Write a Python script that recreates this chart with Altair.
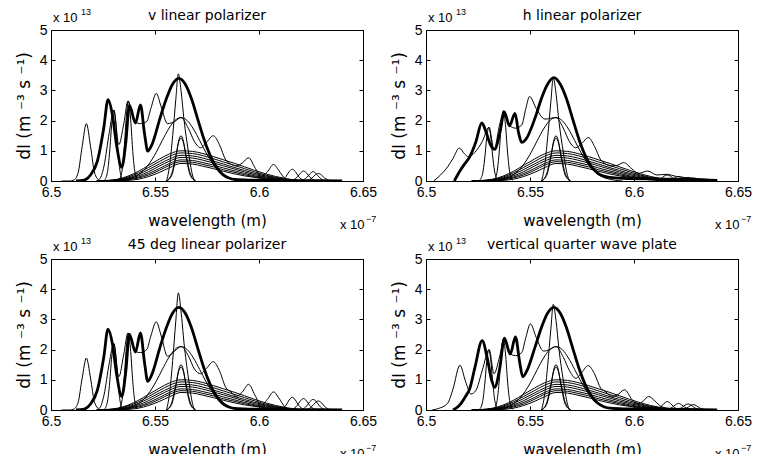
import altair as alt
import pandas as pd

FONT_TICK = "Liberation Sans"
FONT_TITLE = "DejaVu Sans"
W, H = 312, 151

panel_titles = ["v linear polarizer", "h linear polarizer",
                "45 deg linear polarizer", "vertical quarter wave plate"]
x_ticks = [6.5, 6.55, 6.6, 6.65]
y_ticks = [0, 1, 2, 3, 4, 5]

# ---- components common to all four panels (x in 1e-7 m, y in 1e13) ----
XB = [6.522, 6.527, 6.532, 6.537, 6.542, 6.547, 6.552, 6.557, 6.5625, 6.568, 6.573,
      6.578, 6.583, 6.588, 6.593, 6.598, 6.603, 6.608, 6.613, 6.618, 6.623]
B1 = [0.00, 0.02, 0.06, 0.16, 0.32, 0.52, 0.72, 0.90, 1.00, 0.98, 0.91, 0.81, 0.70, 0.59, 0.47, 0.35, 0.24, 0.15, 0.08, 0.03, 0.01]
B2 = [0.00, 0.01, 0.05, 0.13, 0.27, 0.45, 0.64, 0.82, 0.93, 0.91, 0.84, 0.74, 0.63, 0.52, 0.41, 0.30, 0.20, 0.12, 0.06, 0.02, 0.005]
B3 = [0.00, 0.01, 0.04, 0.10, 0.22, 0.38, 0.56, 0.73, 0.85, 0.83, 0.76, 0.66, 0.56, 0.45, 0.35, 0.25, 0.17, 0.10, 0.05, 0.02, 0.00]
B4 = [0.00, 0.01, 0.03, 0.08, 0.17, 0.31, 0.49, 0.66, 0.78, 0.76, 0.69, 0.60, 0.50, 0.40, 0.30, 0.21, 0.14, 0.08, 0.04, 0.015, 0.00]
B5 = [0.00, 0.00, 0.02, 0.06, 0.13, 0.25, 0.41, 0.58, 0.70, 0.68, 0.61, 0.53, 0.43, 0.34, 0.25, 0.17, 0.11, 0.06, 0.03, 0.01, 0.00]
B6 = [0.00, 0.00, 0.015, 0.04, 0.10, 0.20, 0.35, 0.52, 0.64, 0.62, 0.55, 0.47, 0.37, 0.29, 0.21, 0.14, 0.09, 0.05, 0.02, 0.01, 0.00]
B7 = [0.00, 0.00, 0.01, 0.02, 0.06, 0.15, 0.28, 0.44, 0.58, 0.56, 0.49, 0.41, 0.32, 0.24, 0.17, 0.12, 0.07, 0.035, 0.017, 0.006, 0.00]

XN = [6.5555, 6.558, 6.560, 6.5615, 6.5625, 6.5635, 6.565, 6.567, 6.5695]
N1 = [0.0, 0.18, 0.78, 1.36, 1.50, 1.36, 0.78, 0.18, 0.0]
N2 = [0.0, 0.24, 0.83, 1.31, 1.42, 1.31, 0.83, 0.24, 0.01]

XG = [6.5305, 6.5345, 6.5385, 6.5415, 6.5445, 6.5475, 6.5505, 6.5535, 6.5565, 6.5595, 6.5625,
      6.5655, 6.5685, 6.5715, 6.5745, 6.5775, 6.5805, 6.5835, 6.5865, 6.5905, 6.5945]
G21 = [0.0, 0.03, 0.09, 0.18, 0.35, 0.60, 0.94, 1.34, 1.72, 2.0, 2.1, 2.0, 1.72, 1.34, 0.94, 0.60, 0.35, 0.18, 0.09, 0.03, 0.0]

XS = [6.5555, 6.557, 6.5585, 6.560, 6.5612, 6.5625, 6.564, 6.566, 6.568, 6.569]
XNB = [6.5257, 6.5272, 6.5282, 6.5292, 6.5302, 6.5312, 6.5322, 6.5332, 6.5347]
XNC = [6.5327, 6.5342, 6.5352, 6.5362, 6.5372, 6.5382, 6.5392, 6.5402, 6.5417]

XT1 = [6.6105, 6.613, 6.6145, 6.616, 6.6175, 6.619, 6.6215]
XT2 = [6.6159, 6.6184, 6.6199, 6.6214, 6.6229, 6.6244, 6.6269]
XT3 = [6.6205, 6.623, 6.6245, 6.626, 6.6275, 6.629, 6.6315]
XT4 = [6.623, 6.6255, 6.627, 6.6285, 6.630, 6.6315, 6.634]

XMAIN = [6.5525, 6.5555, 6.5585, 6.5615, 6.5645, 6.5675, 6.5705, 6.5735, 6.5765, 6.5795,
         6.5825, 6.5855, 6.5885, 6.595, 6.61, 6.625, 6.64]

# ---- panel 1: v linear polarizer ----
T1X = [6.512, 6.516, 6.519, 6.5223, 6.5254, 6.5274, 6.5295, 6.5315, 6.534, 6.536, 6.5377,
       6.5406, 6.543, 6.545, 6.5465, 6.5485] + XMAIN
T1Y = [0.0, 0.03, 0.2, 0.66, 1.77, 2.69, 2.2, 1.2, 0.45, 1.3, 2.5, 1.92, 2.52, 1.55, 0.99, 1.2,
       2.1, 2.73, 3.21, 3.4, 3.21, 2.73, 2.06, 1.39, 0.85, 0.46, 0.22, 0.1, 0.05, 0.03, 0.02, 0.01, 0.0]
M13X = [6.505, 6.509, 6.511, 6.513, 6.515, 6.517, 6.519, 6.521, 6.523, 6.5255, 6.528, 6.5302,
        6.5326, 6.535, 6.537, 6.539, 6.5405, 6.543, 6.546, 6.548, 6.5506, 6.553, 6.556, 6.5595,
        6.5625, 6.566, 6.569, 6.572, 6.575, 6.578, 6.581, 6.584, 6.5865, 6.589, 6.592, 6.595,
        6.598, 6.601, 6.604, 6.607, 6.6095, 6.6125, 6.616]
M1Y = [0.0, 0.0, 0.03, 0.26, 1.15, 1.9, 1.15, 0.26, 0.05, 0.5, 1.6, 2.35, 1.2, 1.9, 2.65, 2.25,
       1.95, 1.9, 1.97, 2.4, 2.9, 2.45, 1.9, 1.97, 2.1, 1.75, 1.3, 1.1, 1.3, 1.5, 1.2, 0.7, 0.56,
       0.5, 0.6, 0.77, 0.45, 0.15, 0.3, 0.55, 0.35, 0.08, 0.0]
S1 = [0.0, 0.5, 1.5, 2.7, 3.55, 3.0, 2.0, 1.0, 0.2, 0.0]
NB1 = [0.02, 0.32, 0.96, 1.88, 2.35, 1.88, 0.96, 0.32, 0.02]
NC1 = [0.03, 0.36, 1.09, 2.12, 2.65, 2.12, 1.09, 0.36, 0.03]
TAIL1 = [[0.02, 0.15, 0.31, 0.39, 0.31, 0.15, 0.02],
         [0.01, 0.13, 0.26, 0.33, 0.26, 0.13, 0.01],
         [0.01, 0.12, 0.24, 0.31, 0.24, 0.12, 0.01],
         [0.01, 0.10, 0.20, 0.25, 0.20, 0.10, 0.01]]

# ---- panel 2: h linear polarizer ----
T2X = [6.5136, 6.516, 6.5184, 6.521, 6.524, 6.5268, 6.529, 6.531, 6.5332, 6.5355, 6.5377,
       6.5401, 6.5428, 6.5445, 6.546, 6.548] + XMAIN
T2Y = [0.0, 0.3, 0.55, 0.8, 1.3, 1.92, 1.6, 1.2, 1.05, 1.6, 2.28, 1.83, 2.24, 1.6, 1.28, 1.38,
       2.1, 2.73, 3.21, 3.42, 3.21, 2.73, 2.06, 1.39, 0.85, 0.48, 0.26, 0.16, 0.12, 0.09, 0.07, 0.05, 0.02]
M2X = [6.5037, 6.507, 6.5104, 6.513, 6.516, 6.5185, 6.5205, 6.5235, 6.527, 6.5303, 6.5327,
       6.5355, 6.5375, 6.540, 6.543, 6.546, 6.548, 6.5498, 6.553, 6.5572, 6.5625, 6.566, 6.569,
       6.572, 6.575, 6.578, 6.581, 6.584, 6.586, 6.589, 6.592, 6.595, 6.599, 6.602, 6.6066,
       6.611, 6.6155, 6.6205, 6.63, 6.64]
M2Y = [0.0, 0.2, 0.47, 0.75, 1.09, 0.9, 0.8, 0.95, 1.3, 1.78, 1.05, 1.9, 2.33, 1.85, 1.75, 1.85,
       2.4, 2.8, 2.4, 2.05, 2.1, 1.75, 1.3, 1.1, 1.25, 1.44, 1.15, 0.7, 0.58, 0.5, 0.52, 0.61,
       0.4, 0.25, 0.33, 0.2, 0.22, 0.15, 0.08, 0.03]
S2 = [0.0, 0.48, 1.45, 2.6, 3.42, 2.9, 1.93, 0.96, 0.19, 0.0]
NB2 = [0.02, 0.24, 0.73, 1.42, 1.78, 1.42, 0.73, 0.24, 0.02]
NC2 = [0.02, 0.31, 0.96, 1.86, 2.33, 1.86, 0.96, 0.31, 0.02]
TAIL2 = [[0.01, 0.08, 0.16, 0.20, 0.16, 0.08, 0.01],
         [0.01, 0.06, 0.12, 0.15, 0.12, 0.06, 0.01],
         [0.00, 0.05, 0.09, 0.12, 0.09, 0.05, 0.00],
         [0.00, 0.04, 0.08, 0.10, 0.08, 0.04, 0.00]]

# ---- panel 3: 45 deg linear polarizer ----
T3Y = [0.0, 0.03, 0.2, 0.66, 1.76, 2.68, 2.2, 1.2, 0.45, 1.3, 2.5, 1.92, 2.55, 1.55, 0.95, 1.18,
       2.1, 2.73, 3.21, 3.4, 3.21, 2.73, 2.06, 1.39, 0.85, 0.46, 0.22, 0.1, 0.05, 0.03, 0.02, 0.01, 0.0]
M3Y = [0.0, 0.0, 0.03, 0.24, 1.06, 1.72, 1.06, 0.24, 0.05, 0.5, 1.55, 2.2, 1.1, 1.85, 2.55, 2.2,
       1.95, 1.9, 2.0, 2.45, 2.92, 2.45, 1.78, 1.95, 2.1, 1.8, 1.35, 1.2, 1.4, 1.6, 1.3, 0.75, 0.6,
       0.45, 0.6, 0.85, 0.5, 0.15, 0.35, 0.6, 0.4, 0.1, 0.0]
S3 = [0.0, 0.55, 1.64, 2.95, 3.88, 3.28, 2.19, 1.09, 0.22, 0.0]
NB3 = [0.02, 0.30, 0.90, 1.76, 2.2, 1.76, 0.90, 0.30, 0.02]
NC3 = [0.03, 0.34, 1.05, 2.04, 2.55, 2.04, 1.05, 0.34, 0.03]
TAIL3 = [[0.02, 0.16, 0.33, 0.42, 0.33, 0.16, 0.02],
         [0.02, 0.15, 0.30, 0.38, 0.30, 0.15, 0.02],
         [0.01, 0.14, 0.28, 0.35, 0.28, 0.14, 0.01],
         [0.01, 0.12, 0.24, 0.30, 0.24, 0.12, 0.01]]

# ---- panel 4: vertical quarter wave plate ----
T4X = [6.513, 6.516, 6.519, 6.521, 6.5235, 6.527, 6.5295, 6.5315, 6.533, 6.5355, 6.5377,
       6.5405, 6.543, 6.545, 6.5465, 6.5485] + XMAIN
T4Y = [0.0, 0.15, 0.45, 0.7, 1.4, 2.3, 1.7, 1.0, 0.75, 1.4, 2.38, 1.85, 2.42, 1.6, 1.1, 1.3,
       2.1, 2.73, 3.21, 3.4, 3.21, 2.73, 2.06, 1.39, 0.85, 0.46, 0.23, 0.11, 0.06, 0.04, 0.03, 0.02, 0.0]
M4X = [6.503, 6.506, 6.5104, 6.513, 6.5163, 6.519, 6.5216, 6.524, 6.527, 6.5304, 6.5327, 6.5355,
       6.5375, 6.540, 6.543, 6.546, 6.548, 6.5502, 6.553, 6.5565, 6.5595, 6.5625, 6.566, 6.569,
       6.572, 6.575, 6.578, 6.581, 6.584, 6.5865, 6.589, 6.592, 6.5955, 6.599, 6.602, 6.6045,
       6.607, 6.610, 6.613, 6.617]
M4Y = [0.0, 0.05, 0.22, 0.7, 1.48, 0.95, 0.53, 0.65, 1.3, 2.0, 1.2, 1.8, 2.35, 1.9, 1.8, 1.9,
       2.4, 2.85, 2.4, 1.95, 2.0, 2.1, 1.75, 1.3, 1.05, 1.25, 1.47, 1.2, 0.72, 0.6, 0.45, 0.5,
       0.67, 0.35, 0.2, 0.3, 0.45, 0.3, 0.12, 0.05]
S4 = [0.0, 0.49, 1.48, 2.66, 3.5, 2.96, 1.97, 0.99, 0.2, 0.0]
NB4 = [0.02, 0.27, 0.82, 1.6, 2.0, 1.6, 0.82, 0.27, 0.02]
NC4 = [0.02, 0.32, 0.96, 1.88, 2.35, 1.88, 0.96, 0.32, 0.02]
TAIL4 = [[0.01, 0.11, 0.22, 0.28, 0.22, 0.11, 0.01],
         [0.01, 0.09, 0.17, 0.22, 0.17, 0.09, 0.01],
         [0.01, 0.08, 0.16, 0.20, 0.16, 0.08, 0.01],
         [0.01, 0.07, 0.14, 0.18, 0.14, 0.07, 0.01]]

PANELS = [
    dict(T=(T1X, T1Y), M=(M13X, M1Y), S=S1, NB=NB1, NC=NC1, TAIL=TAIL1),
    dict(T=(T2X, T2Y), M=(M2X, M2Y), S=S2, NB=NB2, NC=NC2, TAIL=TAIL2),
    dict(T=(T1X, T3Y), M=(M13X, M3Y), S=S3, NB=NB3, NC=NC3, TAIL=TAIL3),
    dict(T=(T4X, T4Y), M=(M4X, M4Y), S=S4, NB=NB4, NC=NC4, TAIL=TAIL4),
]


def panel_frame(p):
    rows = []

    def add(name, kind, xs, ys):
        for i, (x, y) in enumerate(zip(xs, ys)):
            rows.append(dict(curve=name, kind=kind, i=i, x=x, y=y))

    for k, b in enumerate([B1, B2, B3, B4, B5, B6, B7]):
        add(f"broad{k}", "thin", XB, b)
    add("n1", "thin", XN, N1)
    add("n2", "thin", XN, N2)
    add("g21", "thin", XG, G21)
    add("spike", "thin", XS, p["S"])
    add("nb", "thin", XNB, p["NB"])
    add("nc", "thin", XNC, p["NC"])
    for k, (xt, yt) in enumerate(zip([XT1, XT2, XT3, XT4], p["TAIL"])):
        add(f"tail{k}", "thin", xt, yt)
    add("multi", "thin", *p["M"])
    add("total", "thick", *p["T"])
    return pd.DataFrame(rows)


XSCALE = alt.Scale(domain=[6.5, 6.65], nice=False, zero=False)
YSCALE = alt.Scale(domain=[0, 5], nice=False)


def frame_axis(orient, values):
    # plain edge line of the box (no ticks, no labels)
    return alt.Axis(orient=orient, values=values, domain=True, domainColor="black",
                    domainWidth=1, ticks=False, labels=False, grid=False, title=None)


def tick_axis(orient, values):
    # inward ticks: the axis is moved 4px inside and its 4px ticks point back to the edge
    return alt.Axis(orient=orient, values=values, offset=-4, domain=False, ticks=True,
                    tickSize=4, tickColor="black", tickWidth=1, labels=False, grid=False,
                    title=None)


def make_panel(idx):
    p = PANELS[idx]
    df = panel_frame(p)
    thin_df = df[df.kind == "thin"]
    thick_df = df[df.kind == "thick"]

    main_x = alt.Axis(orient="bottom", values=x_ticks, format="~g", ticks=False, tickSize=0,
                      domain=True, domainColor="black", domainWidth=1, grid=False,
                      labelFont=FONT_TICK, labelFontSize=14, labelColor="black",
                      labelPadding=4, labelAlign="center", labelBaseline="top",
                      title="wavelength (m)", titleFont=FONT_TITLE, titleFontSize=15,
                      titleFontWeight="normal", titleColor="black", titlePadding=14,
                      labelFlush=False)
    main_y = alt.Axis(orient="left", values=y_ticks, format="d", ticks=False, tickSize=0,
                      domain=True, domainColor="black", domainWidth=1, grid=False,
                      labelFont=FONT_TICK, labelFontSize=14, labelColor="black",
                      labelPadding=4, labelAlign="right", labelBaseline="middle",
                      title="dI (m \u207b\u00b3 s \u207b\u00b9)", titleFont=FONT_TITLE,
                      titleFontSize=17, titleFontWeight="normal", titleColor="black",
                      titlePadding=6, labelFlush=False)

    thin = alt.Chart(thin_df).mark_line(
        color="black", strokeWidth=1.0, interpolate="monotone", clip=True
    ).encode(x=alt.X("x:Q", scale=XSCALE, axis=main_x),
             y=alt.Y("y:Q", scale=YSCALE, axis=main_y),
             detail="curve:N", order="i:Q")
    thick = alt.Chart(thick_df).mark_line(
        color="black", strokeWidth=2.8, interpolate="monotone", clip=True
    ).encode(x=alt.X("x:Q", scale=XSCALE, axis=tick_axis("bottom", x_ticks)),
             y=alt.Y("y:Q", scale=YSCALE, axis=tick_axis("left", y_ticks)),
             order="i:Q")
    edges = alt.Chart(thick_df).mark_line(opacity=0).encode(
        x=alt.X("x:Q", scale=XSCALE, axis=frame_axis("top", x_ticks)),
        y=alt.Y("y:Q", scale=YSCALE, axis=frame_axis("right", y_ticks)))
    ticks2 = alt.Chart(thick_df).mark_line(opacity=0).encode(
        x=alt.X("x:Q", scale=XSCALE, axis=tick_axis("top", x_ticks)),
        y=alt.Y("y:Q", scale=YSCALE, axis=tick_axis("right", y_ticks)))

    def label(txt, x, y, size, font=FONT_TICK, align="left"):
        return alt.Chart(pd.DataFrame({"t": [txt]})).mark_text(
            font=font, fontSize=size, color="black", align=align, baseline="alphabetic"
        ).encode(x=alt.value(x), y=alt.value(y), text="t:N")

    title = label(panel_titles[idx], W / 2, -10, 14, font=FONT_TITLE, align="center")
    exp_y = [label("x 10", 2, -8, 13), label("13", 30, -15, 9)]
    exp_x = [label("x 10", W - 23, H + 48, 13), label("\u22127", W + 3, H + 41, 9)]

    return alt.layer(thin, thick, edges, ticks2, title, *exp_y, *exp_x).resolve_axis(
        x="independent", y="independent"
    ).properties(width=W, height=H)


chart = alt.concat(
    *[make_panel(i) for i in range(4)], columns=2,
    spacing={"row": 78, "column": 63}, bounds="flush"
).properties(
    padding={"left": 6, "top": -1, "right": 0, "bottom": -8}
).configure_view(stroke="black", strokeWidth=1)

chart.save("out.html", embed_options={"renderer": "svg", "actions": False})
